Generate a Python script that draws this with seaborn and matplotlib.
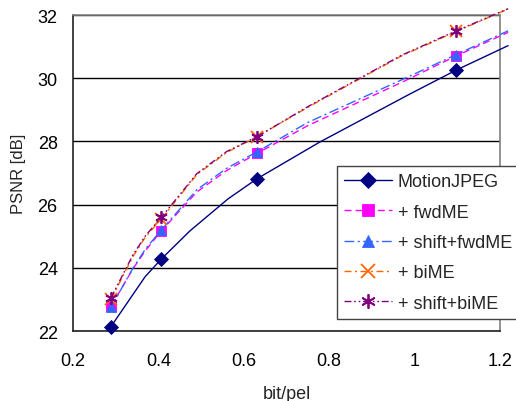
import matplotlib
matplotlib.use("Agg")
import matplotlib.pyplot as plt
import seaborn as sns
import numpy as np

# ---- data ----
x_mjpeg = [0.289, 0.369, 0.407, 0.474, 0.563, 0.630, 0.778, 0.989, 1.098, 1.219]
y_mjpeg = [22.14, 23.72, 24.28, 25.17, 26.18, 26.81, 27.98, 29.50, 30.26, 31.03]
mk_mjpeg = [0, 2, 5, 8]

x_other = [0.289, 0.340, 0.370, 0.407, 0.490, 0.560, 0.631, 0.750, 0.970, 1.098, 1.219]
mk_other = [0, 3, 6, 9]
y_fwd = [22.78, 23.96, 24.55, 25.17, 26.40, 27.08, 27.62, 28.50, 29.87, 30.71, 31.45]
y_sfwd = [22.75, 23.98, 24.60, 25.20, 26.47, 27.15, 27.67, 28.60, 29.95, 30.75, 31.50]
y_bi = [23.00, 24.35, 24.98, 25.55, 26.95, 27.65, 28.15, 29.08, 30.71, 31.48, 32.19]
y_sbi = [23.05, 24.40, 25.02, 25.60, 26.98, 27.68, 28.15, 29.10, 30.73, 31.50, 32.20]

labels = ["MotionJPEG", "+ fwdME", "+ shift+fwdME", "+ biME", "+ shift+biME"]
xs = [x_mjpeg, x_other, x_other, x_other, x_other]
ys = [y_mjpeg, y_fwd, y_sfwd, y_bi, y_sbi]
marks = [mk_mjpeg, mk_other, mk_other, mk_other, mk_other]
colors = ["#000080", "#FF00FF", "#3366FF", "#FF6600", "#800080"]
markers = ["D", "s", "^", "x", (6, 2, 0)]
msizes = [7.0, 7.2, 7.8, 8.5, 9.0]
styles = ["-", (0, (5, 3)), (0, (7, 2.5, 1.5, 2.5)), (0, (5, 2.5, 1.5, 2.5)),
          (0, (5, 2, 1.2, 2, 1.2, 2))]
xticks = [0.2, 0.4, 0.6, 0.8, 1.0, 1.2]
xticklabels = ["0.2", "0.4", "0.6", "0.8", "1", "1.2"]
yticks = [22, 24, 26, 28, 30, 32]

sns.set_style("white")
plt.rcParams["font.family"] = ["Liberation Sans", "DejaVu Sans"]

fig = plt.figure(figsize=(5.16, 4.02), dpi=100)
ax = fig.add_axes([73 / 516, 70 / 402, 427 / 516, 316 / 402])

for i in range(5):
    filled = markers[i] in ("D", "s", "^")
    sns.lineplot(x=xs[i], y=ys[i], ax=ax, color=colors[i], label=labels[i],
                 linestyle=styles[i], linewidth=1.0,
                 marker=markers[i], markersize=msizes[i], markevery=marks[i],
                 markeredgecolor=colors[i], markerfacecolor=colors[i],
                 markeredgewidth=0.6 if filled else 1.3,
                 sort=False, clip_on=False, zorder=3 + i)

ax.set_xlim(0.2, 1.2)
ax.set_ylim(22, 32)
ax.set_xticks(xticks)
ax.set_xticklabels(xticklabels)
ax.set_yticks(yticks)
ax.yaxis.grid(True, color="black", linewidth=1.0)
ax.xaxis.grid(False)
ax.tick_params(axis="both", direction="in", length=5, width=1, colors="#555555",
               labelcolor="black", labelsize=13)
ax.tick_params(axis="x", pad=15)
ax.tick_params(axis="y", pad=11)
for s in ["left", "bottom"]:
    ax.spines[s].set_color("#222222")
    ax.spines[s].set_linewidth(1.2)
for s in ["top", "right"]:
    ax.spines[s].set_color("#808080")
    ax.spines[s].set_linewidth(1.2)

ax.set_xlabel("bit/pel", fontsize=13, labelpad=12)
ax.set_ylabel("PSNR [dB]", fontsize=12, labelpad=8)

leg = ax.legend(loc="upper left", bbox_to_anchor=(0.618, 0.522), fontsize=13,
                frameon=True, fancybox=False, framealpha=1, edgecolor="#444444",
                borderaxespad=0, labelspacing=0.74, handlelength=2.65,
                handletextpad=0.33, borderpad=0.4, numpoints=1, markerscale=1.15)
leg.get_frame().set_linewidth(1.0)
leg.set_zorder(20)

fig.savefig("out.png", dpi=100)
